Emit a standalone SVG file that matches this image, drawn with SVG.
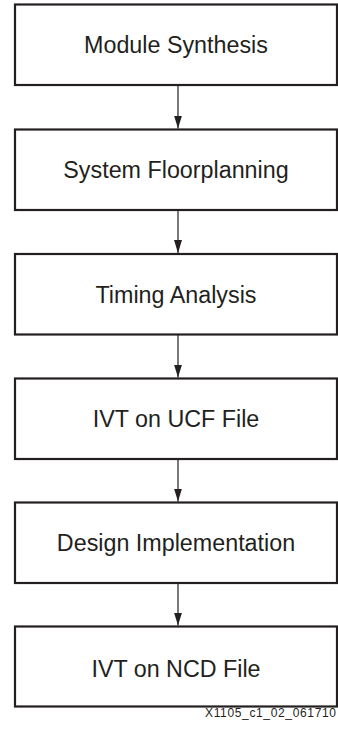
<svg xmlns="http://www.w3.org/2000/svg" width="338" height="730" viewBox="0 0 338 730">
<style>
.box{fill:#fff;stroke:#231f20;stroke-width:2.2}
.lbl{font-family:"Liberation Sans",Arial,sans-serif;font-size:23.3px;fill:#231f20;text-anchor:middle}
.conn{stroke:#231f20;stroke-width:1.2;fill:none}
.cap{font-family:"Liberation Sans",Arial,sans-serif;font-size:12px;fill:#231f20}
</style>
<defs>
<marker id="ah" markerWidth="13" markerHeight="8" refX="13" refY="4" orient="auto" markerUnits="userSpaceOnUse" viewBox="0 0 13 8">
<path d="M0,0 L13,4 L0,8 Z" fill="#231f20"/>
</marker>
</defs>
<rect width="338" height="730" fill="#fff"/>
<g id="n1"><rect class="box" x="15" y="4.5" width="322" height="80.5"/><text class="lbl" x="176" y="53.2">Module Synthesis</text></g>
<g id="n2"><rect class="box" x="15" y="129.5" width="322" height="80.5"/><text class="lbl" x="176" y="178.2">System Floorplanning</text></g>
<g id="n3"><rect class="box" x="15" y="254" width="322" height="80.5"/><text class="lbl" x="176" y="302.7">Timing Analysis</text></g>
<g id="n4"><rect class="box" x="15" y="378.5" width="322" height="80.5"/><text class="lbl" x="176" y="427.2">IVT on UCF File</text></g>
<g id="n5"><rect class="box" x="15" y="502.5" width="322" height="80.5"/><text class="lbl" x="176" y="550.5">Design Implementation</text></g>
<g id="n6"><rect class="box" x="15" y="626.5" width="322" height="80"/><text class="lbl" x="176" y="677">IVT on NCD File</text></g>
<g id="connectors">
<line class="conn" x1="178" y1="85" x2="178" y2="128.5" marker-end="url(#ah)"/>
<line class="conn" x1="178" y1="210" x2="178" y2="253" marker-end="url(#ah)"/>
<line class="conn" x1="178" y1="334.5" x2="178" y2="377.5" marker-end="url(#ah)"/>
<line class="conn" x1="178" y1="459" x2="178" y2="501.5" marker-end="url(#ah)"/>
<line class="conn" x1="178" y1="583" x2="178" y2="625.5" marker-end="url(#ah)"/>
</g>
<text class="cap" x="205" y="717" textLength="131" lengthAdjust="spacing">X1105_c1_02_061710</text>
</svg>
